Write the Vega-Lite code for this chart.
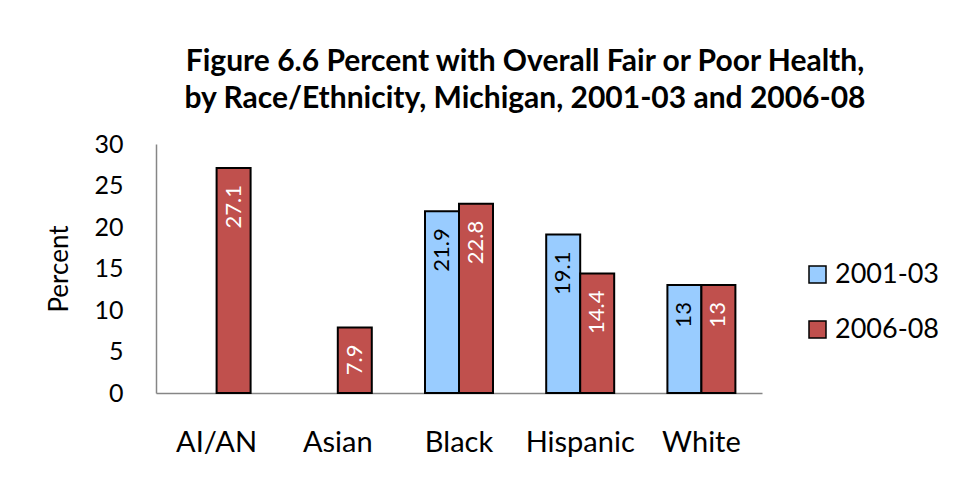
{
  "$schema": "https://vega.github.io/schema/vega-lite/v6.json",
  "width": 606,
  "height": 249,
  "autosize": {"type": "none"},
  "padding": {"left": 156, "top": 144, "right": 194, "bottom": 92},
  "background": "white",
  "config": {"view": {"stroke": null}, "font": "Lato"},
  "title": {
    "text": ["Figure 6.6 Percent with Overall Fair or Poor Health,", "by Race/Ethnicity, Michigan, 2001-03 and 2006-08"],
    "fontSize": 30,
    "fontWeight": "bold",
    "font": "Lato",
    "color": "black",
    "lineHeight": 37,
    "anchor": "middle",
    "dx": 66,
    "offset": 18
  },
  "data": {
    "values": [
      {"race": "AI/AN", "period": "2006-08", "value": 27.1},
      {"race": "Asian", "period": "2006-08", "value": 7.9},
      {"race": "Black", "period": "2001-03", "value": 21.9},
      {"race": "Black", "period": "2006-08", "value": 22.8},
      {"race": "Hispanic", "period": "2001-03", "value": 19.1},
      {"race": "Hispanic", "period": "2006-08", "value": 14.4},
      {"race": "White", "period": "2001-03", "value": 13},
      {"race": "White", "period": "2006-08", "value": 13}
    ]
  },
  "encoding": {
    "x": {
      "field": "race",
      "type": "nominal",
      "sort": ["AI/AN", "Asian", "Black", "Hispanic", "White"],
      "scale": {"paddingInner": 0.439, "paddingOuter": 0.2195},
      "axis": {
        "title": null,
        "labelAngle": 0,
        "labelFontSize": 29,
        "labelColor": "black",
        "labelPadding": 35,
        "ticks": false,
        "domainColor": "#868686",
        "domainWidth": 1.5
      }
    },
    "xOffset": {
      "field": "period",
      "type": "nominal",
      "scale": {"domain": ["2001-03", "2006-08"], "paddingInner": 0, "paddingOuter": 0}
    },
    "y": {
      "field": "value",
      "type": "quantitative",
      "scale": {"domain": [0, 30], "nice": false},
      "axis": {
        "title": "Percent",
        "titleFontSize": 26,
        "titleFontWeight": "normal",
        "titleColor": "black",
        "titlePadding": 21,
        "values": [0, 5, 10, 15, 20, 25, 30],
        "labelFontSize": 25,
        "labelColor": "black",
        "labelPadding": 33,
        "ticks": false,
        "grid": false,
        "domainColor": "#868686",
        "domainWidth": 1.5
      }
    }
  },
  "layer": [
    {
      "mark": {"type": "bar", "stroke": "black", "strokeWidth": 2},
      "encoding": {
        "color": {
          "field": "period",
          "type": "nominal",
          "scale": {"domain": ["2001-03", "2006-08"], "range": ["#99CCFF", "#C0504D"]},
          "legend": {
            "title": null,
            "orient": "none",
            "legendX": 648,
            "legendY": 117,
            "padding": 0,
            "symbolType": "square",
            "symbolSize": 289,
            "symbolStrokeColor": "black",
            "symbolStrokeWidth": 1.5,
            "symbolOpacity": 1,
            "labelFontSize": 27,
            "labelColor": "black",
            "labelOffset": 4,
            "rowPadding": 27
          }
        }
      }
    },
    {
      "mark": {"type": "text", "angle": 270, "align": "right", "baseline": "middle", "dx": -17, "fontSize": 22},
      "encoding": {
        "text": {"field": "value", "type": "quantitative"},
        "fill": {"condition": {"test": "datum.period === '2001-03'", "value": "black"}, "value": "white"}
      }
    }
  ]
}
